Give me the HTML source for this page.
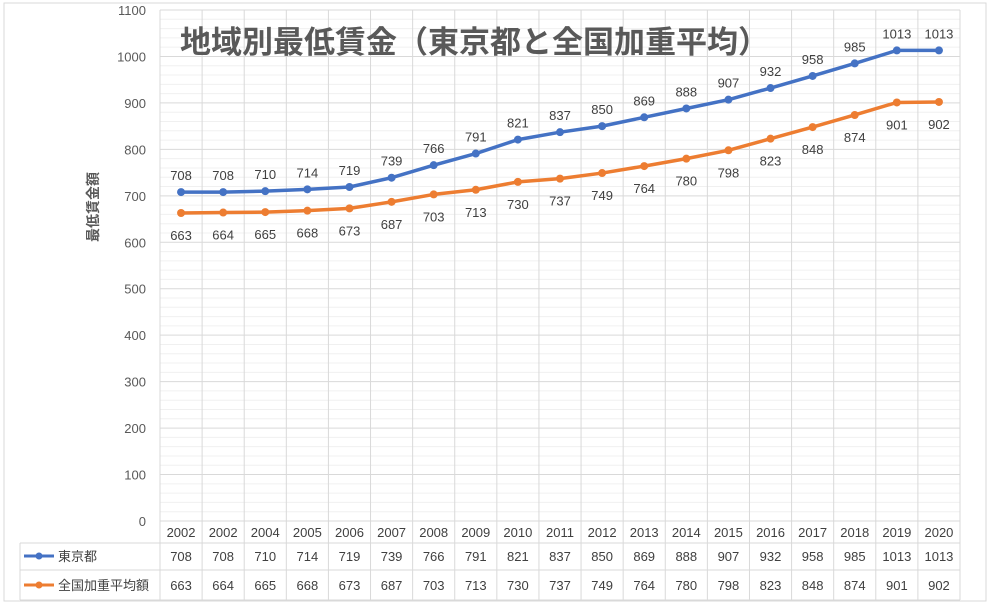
<!DOCTYPE html>
<html><head><meta charset="utf-8"><style>
body{margin:0;background:#fff;width:1000px;height:604px;overflow:hidden;font-family:"Liberation Sans","Noto Sans CJK JP",sans-serif}
svg text{font-family:"Liberation Sans","Noto Sans CJK JP",sans-serif}
</style></head><body>
<svg id="c" width="1000" height="604" xmlns="http://www.w3.org/2000/svg"></svg>
<script>
const years=["2002","2002","2004","2005","2006","2007","2008","2009","2010","2011","2012","2013","2014","2015","2016","2017","2018","2019","2020"];
const tokyo=[708,708,710,714,719,739,766,791,821,837,850,869,888,907,932,958,985,1013,1013];
const national=[663,664,665,668,673,687,703,713,730,737,749,764,780,798,823,848,874,901,902];
const yTicks=[0,100,200,300,400,500,600,700,800,900,1000,1100];
const seriesNames=["東京都","全国加重平均額"];
const NS="http://www.w3.org/2000/svg",svg=document.getElementById('c');
const L=160,R=960,T=10,B=521,cw=(R-L)/years.length;
const x=i=>L+cw*(i+0.5), y=v=>B-(v/1100)*(B-T);
function el(t,a,p){const e=document.createElementNS(NS,t);for(const k in a)e.setAttribute(k,a[k]);(p||svg).appendChild(e);return e;}
// chart border
let e=el('rect',{x:4,y:3,width:982,height:598,fill:'#fff',stroke:'#d9d9d9'});

// minor gridlines
for(let v=0;v<=1100;v+=20){el('line',{x1:L,x2:R,y1:y(v),y2:y(v),stroke:v%100?'#f0f0f0':'#d9d9d9'});}
for(let i=0;i<=years.length;i++){el('line',{x1:L+cw*i,x2:L+cw*i,y1:T,y2:600,stroke:'#d9d9d9'});}
// y ticks
yTicks.forEach(v=>{const t=el('text',{x:146,y:y(v)+5,'text-anchor':'end','font-size':13,fill:'#595959'});t.textContent=v;
});
// y title
e=el('text',{transform:'translate(98,207) rotate(-90)','text-anchor':'middle','font-size':14,'font-weight':'bold',fill:'#595959'});e.textContent='最低賃金額';

// title
e=el('text',{x:180,y:53,'font-size':31,'font-weight':'bold',fill:'#595959'});e.textContent='地域別最低賃金（東京都と全国加重平均）';

// table
el('line',{x1:20,x2:R,y1:543,y2:543,stroke:'#d9d9d9'});
el('line',{x1:20,x2:R,y1:570,y2:570,stroke:'#d9d9d9'});
el('line',{x1:20,x2:R,y1:600,y2:600,stroke:'#d9d9d9'});
el('line',{x1:20,x2:20,y1:543,y2:600,stroke:'#d9d9d9'});
years.forEach((yr,i)=>{let t=el('text',{x:x(i),y:537,'text-anchor':'middle','font-size':13,fill:'#404040'});t.textContent=yr;
});
const colors=['#4472c4','#ed7d31'];
[tokyo,national].forEach((d,s)=>{
 const ry=s?590:561;
 el('line',{x1:24,x2:54,y1:ry-5,y2:ry-5,stroke:colors[s],'stroke-width':3});
 el('circle',{cx:39,cy:ry-5,r:3.5,fill:colors[s]});
 let t=el('text',{x:58,y:ry,'font-size':13,fill:'#404040'});t.textContent=seriesNames[s];
 
 d.forEach((v,i)=>{let c=el('text',{x:x(i),y:ry,'text-anchor':'middle','font-size':13,fill:'#404040'});c.textContent=v;
 });
 let p=el('polyline',{points:d.map((v,i)=>x(i)+','+y(v)).join(' '),fill:'none',stroke:colors[s],'stroke-width':3.5,'stroke-linejoin':'round'});
 
 d.forEach((v,i)=>{let c=el('circle',{cx:x(i),cy:y(v),r:4,fill:colors[s]});
 
 let l=el('text',{x:x(i),y:y(v)+(s?27:-12),'text-anchor':'middle','font-size':13,fill:'#404040'});l.textContent=v;
 });
});
</script>
</body></html>
